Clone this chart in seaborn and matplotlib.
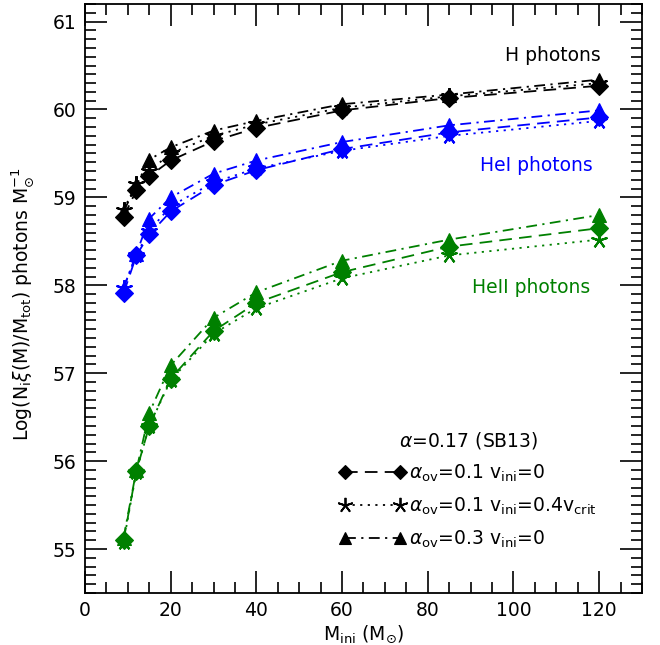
import numpy as np
import pandas as pd
import matplotlib
matplotlib.use("Agg")
import matplotlib.pyplot as plt
from matplotlib.lines import Line2D
from matplotlib.ticker import MultipleLocator
import seaborn as sns

# ---- data ----
masses = [9, 12, 15, 20, 30, 40, 60, 85, 120]
photons = ["H", "HeI", "HeII"]
models = ["ov01_v0", "ov01_v04", "ov03_v0"]

H_ov01_v0 = [58.78, 59.08, 59.24, 59.42, 59.64, 59.79, 59.99, 60.13, 60.27]
H_ov01_v04 = [58.86, 59.15, 59.30, 59.50, 59.70, 59.83, 60.02, 60.15, 60.30]
H_ov03_v0 = [58.84, 59.14, 59.43, 59.57, 59.76, 59.87, 60.06, 60.17, 60.34]

HeI_ov01_v0 = [57.91, 58.34, 58.58, 58.84, 59.14, 59.31, 59.55, 59.74, 59.91]
HeI_ov01_v04 = [57.97, 58.35, 58.62, 58.90, 59.17, 59.33, 59.53, 59.70, 59.87]
HeI_ov03_v0 = [57.97, 58.36, 58.76, 59.00, 59.27, 59.42, 59.63, 59.82, 59.99]

HeII_ov01_v0 = [55.10, 55.89, 56.40, 56.94, 57.48, 57.80, 58.15, 58.44, 58.65]
HeII_ov01_v04 = [55.08, 55.88, 56.40, 56.92, 57.45, 57.74, 58.08, 58.34, 58.52]
HeII_ov03_v0 = [55.13, 55.90, 56.55, 57.09, 57.63, 57.92, 58.28, 58.52, 58.80]

series = {
    ("H", "ov01_v0"): H_ov01_v0, ("H", "ov01_v04"): H_ov01_v04, ("H", "ov03_v0"): H_ov03_v0,
    ("HeI", "ov01_v0"): HeI_ov01_v0, ("HeI", "ov01_v04"): HeI_ov01_v04, ("HeI", "ov03_v0"): HeI_ov03_v0,
    ("HeII", "ov01_v0"): HeII_ov01_v0, ("HeII", "ov01_v04"): HeII_ov01_v04, ("HeII", "ov03_v0"): HeII_ov03_v0,
}
rows = []
for (ph, md), vals in series.items():
    for m, v in zip(masses, vals):
        rows.append({"photon": ph, "model": md, "M": m, "val": v})
df = pd.DataFrame(rows)

palette = {"H": "black", "HeI": "blue", "HeII": "green"}
marker_map = {"ov01_v0": "D", "ov01_v04": (5, 2, 0), "ov03_v0": "^"}
size_map = {"ov01_v0": 9, "ov01_v04": 12, "ov03_v0": 10}
leg_size_map = {"ov01_v0": 7, "ov01_v04": 11, "ov03_v0": 8}
ls_map = {"ov01_v0": (0, (7, 4)), "ov01_v04": (0, (1.2, 3)), "ov03_v0": (0, (6, 3, 1.2, 3))}
legend_labels = [r"$\alpha_{\rm ov}$=0.1 v$_{\rm ini}$=0",
                 r"$\alpha_{\rm ov}$=0.1 v$_{\rm ini}$=0.4v$_{\rm crit}$",
                 r"$\alpha_{\rm ov}$=0.3 v$_{\rm ini}$=0"]

sns.set_theme(style="ticks")
plt.rcParams["font.family"] = ["DejaVu Sans"]
plt.rcParams["mathtext.fontset"] = "dejavusans"
plt.rcParams["text.color"] = "black"
plt.rcParams["axes.labelcolor"] = "black"
plt.rcParams["xtick.color"] = "black"
plt.rcParams["ytick.color"] = "black"
plt.rcParams["xtick.labelcolor"] = "black"
plt.rcParams["ytick.labelcolor"] = "black"

fig = plt.figure(figsize=(6.6, 6.45), dpi=100)
ax = fig.add_axes([0.1288, 0.0806, 0.8439, 0.9132])

for md in models:
    sub = df[df["model"] == md]
    n0 = len(ax.lines)
    sns.lineplot(data=sub, x="M", y="val", hue="photon", palette=palette,
                 marker=marker_map[md], markersize=size_map[md], linestyle=ls_map[md],
                 linewidth=1.3, legend=False, ax=ax, errorbar=None)
    for ln in ax.lines[n0:]:
        ln.set_markeredgecolor(ln.get_color())
        ln.set_markeredgewidth(1.5 if md == "ov01_v04" else 0.8)
        ln.set_linestyle(ls_map[md])

ax.set_xlim(0, 130)
ax.set_ylim(54.5, 61.2)
ax.xaxis.set_major_locator(MultipleLocator(20))
ax.xaxis.set_minor_locator(MultipleLocator(5))
ax.yaxis.set_major_locator(MultipleLocator(1))
ax.yaxis.set_minor_locator(MultipleLocator(0.1))
ax.tick_params(which="both", direction="in", top=True, right=True, width=1.2, color="black",
               labelcolor="black")
ax.tick_params(which="major", length=16, labelsize=13.5, pad=6)
ax.tick_params(which="minor", length=8)
for s in ax.spines.values():
    s.set_linewidth(1.3)
    s.set_color("black")

ax.set_xlabel(r"M$_{\rm ini}$ (M$_{\odot}$)", fontsize=13.5, labelpad=2, color="black")
ax.set_ylabel(r"Log(N$_{\rm i}\xi$(M)/M$_{\rm tot}$) photons M$_{\odot}^{-1}$", fontsize=13.5,
              color="black")
ax.yaxis.set_label_coords(-0.088, 0.49)

ax.text(109.3, 60.61, "H photons", color="black", fontsize=13.5, ha="center", va="center")
ax.text(105.4, 59.36, "HeI photons", color="blue", fontsize=13.5, ha="center", va="center")
ax.text(104.1, 57.97, "HeII photons", color="green", fontsize=13.5, ha="center", va="center")

handles = []
for md in models:
    handles.append(Line2D([], [], color="black", marker=marker_map[md], markersize=leg_size_map[md],
                          linestyle=ls_map[md], linewidth=1.3, markeredgecolor="black",
                          markeredgewidth=1.3 if md == "ov01_v04" else 0.8))
leg = ax.legend(handles, legend_labels, title=r"$\alpha$=0.17 (SB13)", loc="lower right",
                bbox_to_anchor=(0.949, 0.045), frameon=False, fontsize=13.5, title_fontsize=13.5,
                numpoints=2, handlelength=3.5, handletextpad=0.2, labelspacing=0.62)
for t in leg.get_texts():
    t.set_color("black")
leg.get_title().set_color("black")

fig.savefig("out.png", dpi=100)
